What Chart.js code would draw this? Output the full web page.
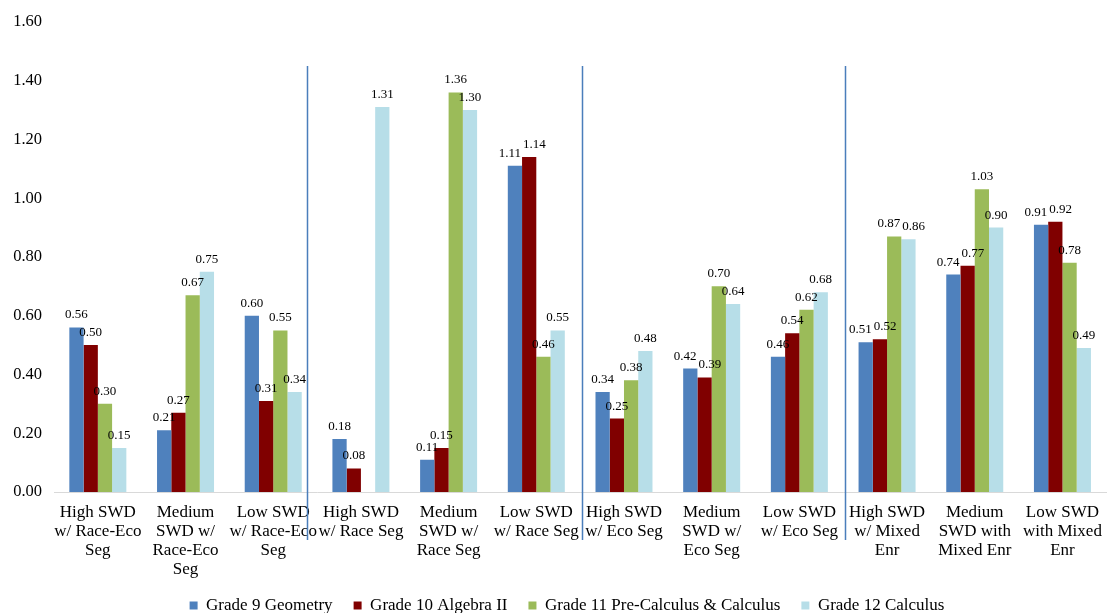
<!DOCTYPE html>
<html><head><meta charset="utf-8">
<script src="https://cdn.jsdelivr.net/npm/chart.js@4/dist/chart.umd.min.js"></script>
<style>html,body{margin:0;padding:0;background:#fff}canvas{display:block}</style>
</head><body>
<canvas id="c" width="1113" height="613"></canvas>
<script>
const categories = [
  ["High SWD","w/ Race-Eco","Seg"],
  ["Medium","SWD w/","Race-Eco","Seg"],
  ["Low SWD","w/ Race-Eco","Seg"],
  ["High SWD","w/ Race Seg"],
  ["Medium","SWD w/","Race Seg"],
  ["Low SWD","w/ Race Seg"],
  ["High SWD","w/ Eco Seg"],
  ["Medium","SWD w/","Eco Seg"],
  ["Low SWD","w/ Eco Seg"],
  ["High SWD","w/ Mixed","Enr"],
  ["Medium","SWD with","Mixed Enr"],
  ["Low SWD","with Mixed","Enr"]
];
const seriesNames = ["Grade 9 Geometry","Grade 10 Algebra II","Grade 11 Pre-Calculus & Calculus","Grade 12 Calculus"];
const grade9  = [0.56, 0.21, 0.60, 0.18, 0.11, 1.11, 0.34, 0.42, 0.46, 0.51, 0.74, 0.91];
const grade10 = [0.50, 0.27, 0.31, 0.08, 0.15, 1.14, 0.25, 0.39, 0.54, 0.52, 0.77, 0.92];
const grade11 = [0.30, 0.67, 0.55, null, 1.36, 0.46, 0.38, 0.70, 0.62, 0.87, 1.03, 0.78];
const grade12 = [0.15, 0.75, 0.34, 1.31, 1.30, 0.55, 0.48, 0.64, 0.68, 0.86, 0.90, 0.49];
const yMin = 0, yMax = 1.6, yStep = 0.2;
// group separators, in category-index units
const separators = [2.386, 5.52, 8.52];

const colors = ["#4F81BD","#800000","#9BBB59","#B7DEE8"];
const seriesData = [grade9, grade10, grade11, grade12];
const FONT = '"Liberation Serif", "Times New Roman", serif';

const valueLabels = {
  id: 'valueLabels',
  afterDatasetsDraw(chart) {
    const ctx = chart.ctx;
    ctx.save();
    ctx.font = '13px ' + FONT;
    ctx.fillStyle = '#000';
    ctx.textAlign = 'center';
    ctx.textBaseline = 'alphabetic';
    const n = chart.data.labels.length;
    for (let j = 0; j < n; j++) {
      const items = [];
      chart.data.datasets.forEach((ds, i) => {
        const v = ds.data[j];
        if (v == null) return;
        const bar = chart.getDatasetMeta(i).data[j];
        const t = v.toFixed(2);
        items.push({ t, x: bar.x, y: bar.y - 9, w: ctx.measureText(t).width });
      });
      // push apart adjacent labels that collide
      for (let pass = 0; pass < 3; pass++) {
        for (let k = 0; k < items.length - 1; k++) {
          const a = items[k], b = items[k + 1];
          if (Math.abs(a.y - b.y) < 11) {
            const need = (a.w + b.w) / 2 + 2;
            const gap = b.x - a.x;
            if (gap < need) { const o = need - gap; a.x -= o / 2; b.x += o / 2; }
          }
        }
      }
      items.forEach(it => ctx.fillText(it.t, it.x, it.y));
    }
    ctx.restore();
  }
};

const separatorLines = {
  id: 'separatorLines',
  afterDatasetsDraw(chart) {
    const ctx = chart.ctx, xs = chart.scales.x, ys = chart.scales.y;
    ctx.save();
    ctx.strokeStyle = '#4A7EBB';
    ctx.lineWidth = 1.5;
    separators.forEach(p => {
      const x = Math.round(xs.getPixelForValue(p)) + 0.5;
      ctx.beginPath();
      ctx.moveTo(x, ys.getPixelForValue(1.45));
      ctx.lineTo(x, ys.bottom + 48);
      ctx.stroke();
    });
    ctx.restore();
  }
};

const layoutTweak = {
  id: 'layoutTweak',
  afterLayout(chart) {
    const lg = chart.legend;
    lg.top += 11; lg.bottom += 11;
    lg.left += 12; lg.right += 12;
    const xs = chart.scales.x;
    xs.bottom += 70; xs.height += 70;
  }
};

new Chart(document.getElementById('c'), {
  type: 'bar',
  data: {
    labels: categories,
    datasets: seriesNames.map((n, i) => ({
      label: n,
      data: seriesData[i],
      backgroundColor: colors[i],
      borderWidth: 0,
      categoryPercentage: 0.65,
      barPercentage: 1.0
    }))
  },
  options: {
    responsive: false,
    animation: false,
    devicePixelRatio: 1,
    layout: { padding: { top: 18, right: 3, left: 0, bottom: 0 } },
    plugins: {
      tooltip: { enabled: false },
      legend: {
        position: 'bottom',
        labels: {
          font: { family: FONT, size: 17 },
          color: '#000',
          boxWidth: 8, boxHeight: 8,
          padding: 21
        }
      }
    },
    scales: {
      x: {
        grid: { display: false, drawTicks: false },
        border: { display: true, color: '#D9D9D9', width: 1 },
        ticks: {
          font: { family: FONT, size: 17, lineHeight: 1.12 },
          color: '#000',
          padding: 11,
          maxRotation: 0, autoSkip: false
        },
        afterFit(s) { s.height = 613 - 492 - s.chart.legend.height; }
      },
      y: {
        min: yMin, max: yMax,
        grid: { display: false, drawTicks: false },
        border: { display: false },
        ticks: {
          stepSize: yStep,
          font: { family: FONT, size: 16.5 },
          color: '#000',
          padding: 12,
          callback: v => Number(v).toFixed(2)
        },
        afterFit(s) { s.width = 54; }
      }
    }
  },
  plugins: [valueLabels, separatorLines, layoutTweak]
});
</script>
</body></html>
